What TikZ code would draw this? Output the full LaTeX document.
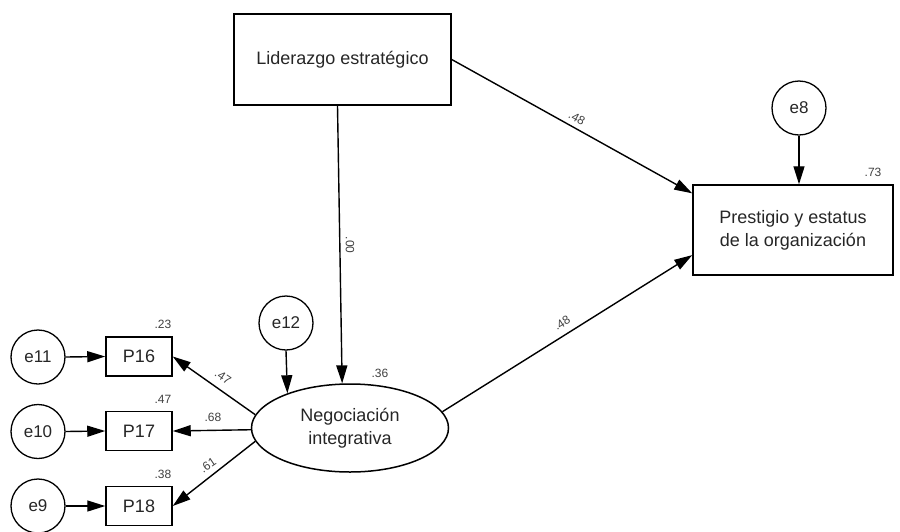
\documentclass[tikz,border=0pt]{standalone}
\usepackage{fontspec}
\setmainfont{Liberation Sans}
\usetikzlibrary{arrows.meta,shapes.geometric}
\begin{document}
\begin{tikzpicture}[x=1pt,y=-1pt,
  box/.style={draw, line width=1.5pt, inner sep=0pt, align=center, text=black!85, font=\fontsize{18}{23}\selectfont},
  err/.style={draw, circle, line width=1.3pt, minimum size=54pt, inner sep=0pt, text=black!85, font=\fontsize{17}{20}\selectfont},
  arr/.style={line width=1.4pt, -{Triangle[length=18pt,width=11pt]}},
  lab/.style={font=\fontsize{12}{14}\selectfont, inner sep=0pt, text=black!75}]
\useasboundingbox (0,0) rectangle (900,531);
% main nodes
\node[box, minimum width=217pt, minimum height=91pt] (lid) at (342.5,59.5) {Liderazgo estratégico};
\node[box, minimum width=200pt, minimum height=90pt] (pres) at (793,230) {Prestigio y estatus\\de la organización};
\node[box, ellipse, minimum width=197pt, minimum height=88pt] (neg) at (350,428) {Negociación\\integrativa};
\node[err] (e8) at (799,108) {e8};
\node[err] (e12) at (286,323) {e12};
\node[box, minimum width=66pt, minimum height=39pt] (p16) at (139,356.5) {P16};
\node[box, minimum width=66pt, minimum height=39pt] (p17) at (139,431) {P17};
\node[box, minimum width=66pt, minimum height=39pt] (p18) at (139,506) {P18};
\node[err] (e11) at (38,357) {e11};
\node[err] (e10) at (38,431.5) {e10};
\node[err] (e9) at (38,506) {e9};
% arrows
\draw[arr] (lid.east) -- (pres.160);
\draw[arr] ([xshift=-5pt]lid.south) -- (neg.100);
\draw[arr] (neg.10) -- (pres.194);
\draw[arr] (e12.south) -- (neg.151.6);
\draw[arr] (e8.south) -- (e8.south |- pres.north);
\draw[arr] (neg.172) -- (p16.east);
\draw[arr] (neg.181) -- (p17.east);
\draw[arr] (neg.188) -- (p18.east);
\draw[arr] (e11.east) -- (p16.west);
\draw[arr] (e10.east) -- (p17.west);
\draw[arr] (e9.east) -- (p18.west);
% labels
\node[lab, rotate=-28.8] (l1) at (577,118) {.48};
\node[lab, rotate=-90] (l2) at (350,245) {.00};
\node[lab, rotate=32.5] (l3) at (562,323) {.48};
\node[lab, rotate=-34] (l4) at (223,377) {.47};
\node[lab] (l5) at (213,417) {.68};
\node[lab, rotate=34] (l6) at (208,465) {.61};
\node[lab] (r1) at (163,324) {.23};
\node[lab] (r2) at (163,399) {.47};
\node[lab] (r3) at (163,474) {.38};
\node[lab] (r4) at (380,373) {.36};
\node[lab] (r5) at (873,172) {.73};
\end{tikzpicture}
\end{document}
